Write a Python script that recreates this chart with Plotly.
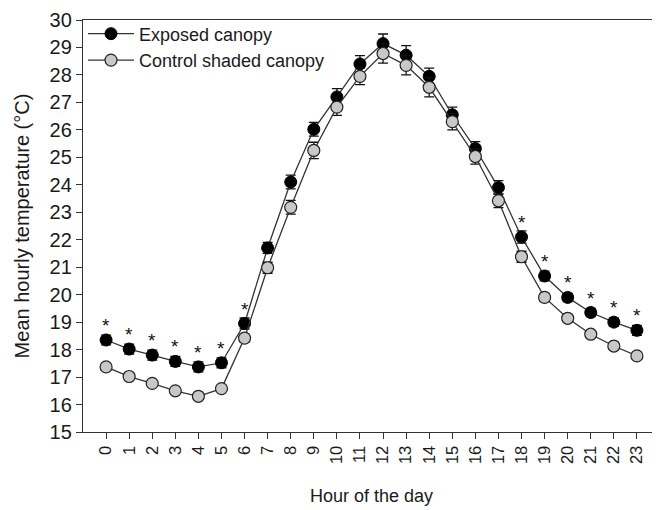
import plotly.graph_objects as go

hours = list(range(24))
hour_labels = [str(h) for h in hours]

exposed = [18.35, 18.02, 17.80, 17.57, 17.37, 17.52, 18.95, 21.70, 24.10, 26.02, 27.20, 28.40,
           29.14, 28.72, 27.95, 26.55, 25.32, 23.90, 22.10, 20.68, 19.90, 19.35, 19.00, 18.70]
exposed_err = [0.18, 0.18, 0.18, 0.18, 0.18, 0.18, 0.2, 0.2, 0.25, 0.25, 0.3, 0.3,
               0.35, 0.35, 0.3, 0.28, 0.25, 0.25, 0.22, 0.18, 0.15, 0.15, 0.15, 0.18]
control = [17.37, 17.02, 16.77, 16.50, 16.30, 16.58, 18.42, 20.98, 23.18, 25.25, 26.83, 27.95,
           28.78, 28.35, 27.55, 26.30, 25.03, 23.42, 21.38, 19.90, 19.14, 18.56, 18.13, 17.77]
control_err = [0.1, 0.1, 0.1, 0.1, 0.1, 0.1, 0.15, 0.2, 0.25, 0.3, 0.3, 0.3,
               0.35, 0.35, 0.35, 0.3, 0.28, 0.25, 0.2, 0.15, 0.1, 0.1, 0.1, 0.1]
significant = [0, 1, 2, 3, 4, 5, 6, 18, 19, 20, 21, 22, 23]

FONT = "Liberation Sans, Arial, sans-serif"
LINE = "#333333"

fig = go.Figure()
fig.add_trace(go.Scatter(
    x=hours, y=exposed, name="Exposed canopy", mode="lines+markers",
    line=dict(color=LINE, width=1.3),
    marker=dict(symbol="circle", size=12, color="#000000", line=dict(color="#000000", width=1)),
    error_y=dict(type="data", array=exposed_err, visible=True, color="#111111", thickness=1.3, width=5),
))
fig.add_trace(go.Scatter(
    x=hours, y=control, name="Control shaded canopy", mode="lines+markers",
    line=dict(color=LINE, width=1.3),
    marker=dict(symbol="circle", size=12, color="#c8c8c8", line=dict(color="#222222", width=1.2)),
    error_y=dict(type="data", array=control_err, visible=True, color="#111111", thickness=1.3, width=5),
))

for h in significant:
    fig.add_annotation(x=h, y=exposed[h], text="*", showarrow=False,
                       yanchor="bottom", yshift=2,
                       font=dict(family=FONT, size=19, color="#111111"))

fig.update_layout(
    width=660, height=510,
    margin=dict(l=75, r=8, t=7, b=86),
    paper_bgcolor="white", plot_bgcolor="white",
    font=dict(family=FONT, size=18, color="#1a1a1a"),
    showlegend=True,
    legend=dict(x=0.0, y=1.011, xanchor="left", yanchor="top",
                bgcolor="rgba(0,0,0,0)", font=dict(size=18), tracegroupgap=0,
                itemwidth=46),
)
fig.update_xaxes(
    range=[-1, 24], tickmode="array", tickvals=hours, ticktext=hour_labels,
    tickangle=-90, ticks="outside", ticklen=6, tickwidth=1.2, tickcolor=LINE,
    tickfont=dict(size=16.5), ticklabeloverflow="allow",
    showline=True, linecolor=LINE, linewidth=1.3, mirror=True,
    showgrid=False, zeroline=False, automargin=False,
    title=dict(text="Hour of the day", font=dict(size=18), standoff=26),
)
fig.update_yaxes(
    range=[15, 30], dtick=1, ticks="outside", ticklen=6, tickwidth=1.2, tickcolor=LINE,
    tickfont=dict(size=20), ticklabeloverflow="allow",
    showline=True, linecolor=LINE, linewidth=1.3, mirror=False,
    showgrid=False, zeroline=False, automargin=False,
    title=dict(text="Mean hourly temperature (°C)", font=dict(size=20), standoff=14),
)

fig.write_html("out.html")
